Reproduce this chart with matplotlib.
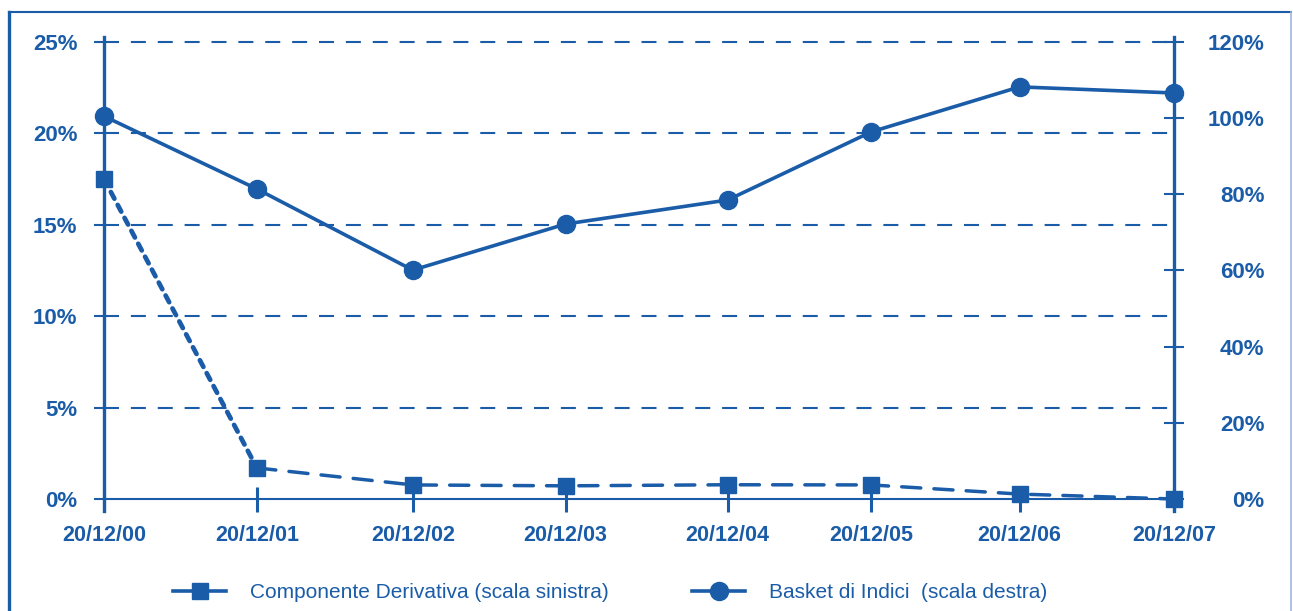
import matplotlib.pyplot as plt
from matplotlib.lines import Line2D

# dates and values
dates = ["20/12/00", "20/12/01", "20/12/02", "20/12/03",
         "20/12/04", "20/12/05", "20/12/06", "20/12/07"]
x_pos = [0, 1.0, 2.02, 3.02, 4.08, 5.02, 5.99, 7.0]
derivativa = [17.5, 1.7, 0.77, 0.72, 0.78, 0.77, 0.27, 0.0]    # left scale
basket = [100.5, 81.4, 60.1, 72.2, 78.5, 96.4, 108.2, 106.6]    # right scale

left_ticks = [0, 5, 10, 15, 20, 25]
right_ticks = [0, 20, 40, 60, 80, 100, 120]

BLUE = "#1a5ca8"
plt.rcParams['font.family'] = ['Liberation Sans', 'DejaVu Sans']

fig = plt.figure(figsize=(12.93, 6.11), dpi=100)
ax = fig.add_axes([104 / 1293, 1 - 511 / 611, (1174 - 104) / 1293, (511 - 37) / 611])
ax2 = ax.twinx()

ylo, yhi = -0.656, 25.27
ax.set_ylim(ylo, yhi)
ax2.set_ylim(ylo * 4.8, yhi * 4.8)
ax.set_xlim(0, 7)

# spines
for a in (ax, ax2):
    a.spines['top'].set_visible(False)
    a.set_facecolor('none')
ax.spines['right'].set_visible(False)
ax2.spines['left'].set_visible(False)
ax2.spines['bottom'].set_visible(False)
ax.spines['left'].set_color(BLUE)
ax.spines['left'].set_linewidth(2.4)
ax2.spines['right'].set_color(BLUE)
ax2.spines['right'].set_linewidth(2.4)
ax.spines['bottom'].set_color(BLUE)
ax.spines['bottom'].set_linewidth(1.5)
ax.spines['bottom'].set_position(('data', 0))

# left ticks and grid
ax.set_yticks(left_ticks)
ax.set_yticklabels([f"{v}%" for v in left_ticks])
ax.tick_params(axis='y', colors=BLUE, length=7, width=1.5, pad=12,
               labelsize=16)
for lab in ax.get_yticklabels():
    lab.set_fontweight('bold')
ax.grid(axis='y', color=BLUE, linewidth=1.5, linestyle=(0, (7.2, 5.7)))
ax.yaxis.get_gridlines()[0].set_visible(False)
ax.grid(axis='x', visible=False)

# right ticks
ax2.set_yticks(right_ticks)
ax2.set_yticklabels([f"{v}%" for v in right_ticks])
ax2.tick_params(axis='y', colors=BLUE, direction='inout', length=14, width=1.5,
                pad=58, labelsize=16)
for lab in ax2.get_yticklabels():
    lab.set_fontweight('bold')
    lab.set_horizontalalignment('right')

# x ticks
ax.set_xticks(x_pos)
ax.set_xticklabels(dates)
ax.tick_params(axis='x', colors=BLUE, direction='inout', length=18, width=2.2,
               pad=10, labelsize=15.5)
for lab in ax.get_xticklabels():
    lab.set_fontweight('bold')

# derivative component: first steep segment renders dotted, rest dashed
ax.plot(x_pos[:2], derivativa[:2], color=BLUE, linewidth=3.4,
        dashes=(1.6, 1.5), dash_capstyle='round', clip_on=False)
ax.plot(x_pos[1:], derivativa[1:], color=BLUE, linewidth=2.5,
        dashes=(5.5, 3.8), dash_capstyle='round', clip_on=False)
ax.plot(x_pos, derivativa, linestyle='none', marker='s', markersize=11,
        color=BLUE, clip_on=False, zorder=5)

# basket of indices on right scale
ax2.plot(x_pos, basket, color=BLUE, linewidth=2.6, marker='o', markersize=13,
         clip_on=False, zorder=5)

# legend
h1 = Line2D([], [], color=BLUE, linewidth=2.6, linestyle='-', marker='s',
            markersize=11)
h2 = Line2D([], [], color=BLUE, linewidth=2.6, marker='o', markersize=13)
fig.legend([h1, h2],
           ["Componente Derivativa (scala sinistra)", "Basket di Indici  (scala destra)"],
           loc='center left', bbox_to_anchor=(173 / 1293, 1 - 593 / 611),
           ncol=2, frameon=False, fontsize=15, handlelength=2.55,
           handletextpad=1.15, columnspacing=4.0, labelcolor=BLUE,
           borderpad=0, borderaxespad=0)

# outer frame
fig.add_artist(Line2D([9 / 1293, 9 / 1293], [0, 1 - 12 / 611], color=BLUE,
                      linewidth=2.4, transform=fig.transFigure))
fig.add_artist(Line2D([9 / 1293, 1291 / 1293], [1 - 12 / 611, 1 - 12 / 611],
                      color=BLUE, linewidth=1.5, transform=fig.transFigure))
fig.add_artist(Line2D([1291 / 1293, 1291 / 1293], [0, 1 - 12 / 611],
                      color="#9db8dc", linewidth=1.2, transform=fig.transFigure))

fig.savefig("out.png", dpi=100)
